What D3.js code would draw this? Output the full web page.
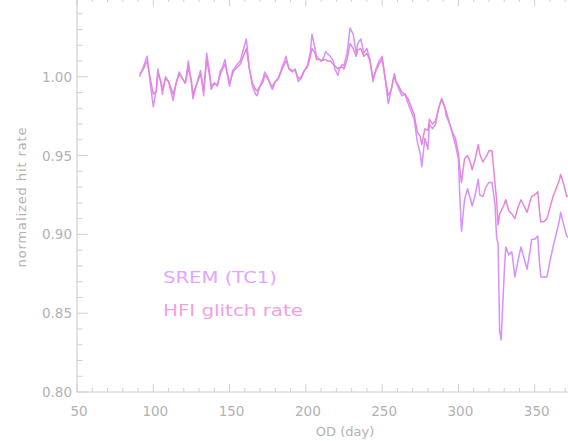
<!DOCTYPE html>
<html>
<head>
<meta charset="utf-8">
<script src="https://cdn.jsdelivr.net/npm/d3@7"></script>
<style>
  html, body { margin: 0; padding: 0; background: #fff; overflow: hidden; }
  text { font-family: "DejaVu Sans", sans-serif; }
</style>
</head>
<body>
<div id="chart"></div>
<script>
  // OD (day)
  var days = [91, 93, 96, 98, 100, 102, 103, 105, 106, 108, 110, 112, 113, 115, 117, 119, 121, 123, 125, 126,
    128, 131, 133, 135, 137, 138, 140, 142, 144, 145, 147, 149, 150, 152, 153, 155, 157, 159, 161, 163,
    165, 167, 168, 170, 172, 173, 175, 177, 178, 180, 182, 184, 186, 187, 189, 191, 193, 195, 197, 199,
    201, 203, 204, 206, 207, 209, 210, 212, 213, 214, 216, 218, 219, 221, 222, 224, 225, 227, 229, 231,
    233, 234, 236, 238, 240, 242, 244, 246, 248, 250, 252, 254, 256, 258, 259, 261, 263, 265, 267, 269,
    271, 273, 275, 276, 278, 280, 281, 283, 285, 287, 289, 291, 292, 294, 296, 298, 300, 301, 302, 304,
    306, 308, 309, 311, 313, 314, 316, 318, 320, 322, 324, 325, 326, 327, 328, 330, 331, 333, 335, 337,
    339, 341, 343, 345, 347, 348, 350, 352, 353, 354, 356, 358, 360, 362, 364, 366, 367, 369, 371, 373];

  var srem = [1.000, 1.005, 1.013, 0.996, 0.981, 0.992, 1.005, 0.996, 0.989, 1.000, 0.997, 0.989, 0.985, 0.996, 1.003, 0.999, 0.996, 1.010, 0.996, 0.986,
    0.994, 1.004, 0.988, 1.015, 1.002, 0.992, 0.996, 0.994, 1.004, 1.005, 1.011, 0.999, 0.994, 1.004, 1.005, 1.008, 1.010, 1.017, 1.024, 1.005,
    0.994, 0.989, 0.988, 0.994, 0.999, 1.003, 1.000, 0.994, 0.992, 0.997, 0.999, 1.005, 1.010, 1.013, 1.005, 1.003, 1.005, 0.997, 0.999, 1.004,
    1.007, 1.016, 1.027, 1.018, 1.013, 1.011, 1.010, 1.013, 1.016, 1.015, 1.013, 1.010, 1.005, 1.001, 1.005, 1.008, 1.007, 1.015, 1.031, 1.027,
    1.015, 1.021, 1.024, 1.015, 1.018, 1.011, 0.997, 1.005, 1.010, 1.013, 0.999, 0.983, 0.992, 1.002, 0.997, 0.992, 0.988, 0.989, 0.983, 0.978,
    0.973, 0.959, 0.951, 0.943, 0.961, 0.954, 0.970, 0.967, 0.970, 0.980, 0.986, 0.981, 0.975, 0.971, 0.964, 0.957, 0.948, 0.922, 0.902, 0.922,
    0.929, 0.922, 0.918, 0.925, 0.935, 0.925, 0.924, 0.930, 0.933, 0.933, 0.919, 0.898, 0.894, 0.839, 0.833, 0.875, 0.892, 0.887, 0.889, 0.873,
    0.883, 0.892, 0.885, 0.878, 0.890, 0.897, 0.897, 0.899, 0.884, 0.873, 0.873, 0.873, 0.883, 0.892, 0.900, 0.908, 0.914, 0.906, 0.899, 0.897];

  var hfi = [1.002, 1.004, 1.010, 0.999, 0.989, 0.991, 1.002, 0.997, 0.992, 0.999, 0.997, 0.992, 0.989, 0.996, 1.002, 0.999, 0.996, 1.006, 0.997, 0.989,
    0.994, 1.002, 0.991, 1.011, 1.000, 0.994, 0.996, 0.995, 1.002, 1.004, 1.008, 1.000, 0.996, 1.002, 1.004, 1.006, 1.008, 1.013, 1.018, 1.005,
    0.996, 0.992, 0.991, 0.994, 0.997, 1.001, 0.999, 0.995, 0.994, 0.997, 0.999, 1.004, 1.008, 1.010, 1.005, 1.004, 1.004, 0.999, 1.000, 1.004,
    1.006, 1.013, 1.018, 1.015, 1.011, 1.011, 1.010, 1.011, 1.011, 1.010, 1.010, 1.008, 1.007, 1.005, 1.006, 1.006, 1.005, 1.011, 1.021, 1.018,
    1.013, 1.017, 1.018, 1.013, 1.015, 1.010, 0.999, 1.004, 1.008, 1.011, 0.999, 0.988, 0.992, 1.001, 0.997, 0.994, 0.990, 0.989, 0.986, 0.981,
    0.976, 0.965, 0.962, 0.957, 0.967, 0.966, 0.973, 0.970, 0.972, 0.980, 0.986, 0.981, 0.978, 0.971, 0.965, 0.961, 0.951, 0.941, 0.933, 0.948,
    0.950, 0.945, 0.941, 0.948, 0.957, 0.951, 0.946, 0.949, 0.953, 0.953, 0.932, 0.922, 0.906, 0.913, 0.915, 0.919, 0.922, 0.915, 0.913, 0.910,
    0.917, 0.922, 0.918, 0.914, 0.921, 0.924, 0.925, 0.927, 0.916, 0.908, 0.908, 0.910, 0.917, 0.924, 0.929, 0.934, 0.938, 0.932, 0.924, 0.925];

  var xTicks = [50, 100, 150, 200, 250, 300, 350];
  var yTicks = [0.80, 0.85, 0.90, 0.95, 1.00];
  var legendNames = ["SREM (TC1)", "HFI glitch rate"];

  var width = 568, height = 441;
  var plotLeft = 77, plotBottom = 392, plotTop = -2, plotRight = 611;
  var axisColor = "#d0d0d0", labelColor = "#b2b2b2";
  var sremColor = "#d690ff", hfiColor = "#e985d8";

  var svg = d3.select("#chart")
    .append("svg")
    .attr("width", width)
    .attr("height", height);

  var x = d3.scaleLinear().domain([50, 400]).range([plotLeft, plotRight]);
  var y = d3.scaleLinear().domain([0.80, 1.05]).range([plotBottom, plotTop]);

  // frame
  svg.append("path")
    .attr("d", "M" + plotRight + "," + plotTop + "H" + plotLeft + "V" + plotBottom + "H" + plotRight)
    .attr("fill", "none")
    .attr("stroke", axisColor)
    .attr("stroke-width", 1.2);

  // x ticks, bottom and top, pointing inward
  var xMinor = d3.range(50, 401, 10);
  svg.selectAll(".xtick")
    .data(xMinor)
  .enter().append("path")
    .attr("class", "xtick")
    .attr("d", function(d) {
      var len = (d % 50 === 0) ? 8 : 4;
      var px = x(d);
      return "M" + px + "," + plotBottom + "v" + (-len) + "M" + px + "," + plotTop + "v" + len;
    })
    .attr("stroke", axisColor);

  var yMinor = d3.range(80, 106, 1).map(function(d) { return d / 100; });
  svg.selectAll(".ytick")
    .data(yMinor)
  .enter().append("path")
    .attr("class", "ytick")
    .attr("d", function(d, i) {
      var len = (i % 5 === 0) ? 11 : 5.5;
      return "M" + plotLeft + "," + y(d) + "h" + len;
    })
    .attr("stroke", axisColor);

  svg.selectAll(".xlabel")
    .data(xTicks)
  .enter().append("text")
    .attr("x", function(d) { return x(d) + 2; })
    .attr("y", 416)
    .attr("text-anchor", "middle")
    .attr("font-size", 13.5)
    .attr("fill", labelColor)
    .text(function(d) { return d; });

  svg.selectAll(".ylabel")
    .data(yTicks)
  .enter().append("text")
    .attr("x", 72)
    .attr("y", function(d) { return y(d) + 5; })
    .attr("text-anchor", "end")
    .attr("font-size", 13.5)
    .attr("fill", labelColor)
    .text(function(d) { return d.toFixed(2); });

  svg.append("text")
    .attr("x", 345)
    .attr("y", 436)
    .attr("text-anchor", "middle")
    .attr("font-size", 13)
    .attr("fill", labelColor)
    .text("OD (day)");

  svg.append("text")
    .attr("transform", "translate(26,197) rotate(-90)")
    .attr("text-anchor", "middle")
    .attr("font-size", 13)
    .attr("letter-spacing", 0.9)
    .attr("fill", labelColor)
    .text("normalized hit rate");

  // series
  var line = d3.line()
    .x(function(d, i) { return x(days[i]); })
    .y(function(d) { return y(d); });

  svg.append("path")
    .datum(srem)
    .attr("d", line)
    .attr("fill", "none")
    .attr("stroke", sremColor)
    .attr("stroke-width", 1.5)
    .attr("stroke-linejoin", "round");

  svg.append("path")
    .datum(hfi)
    .attr("d", line)
    .attr("fill", "none")
    .attr("stroke", hfiColor)
    .attr("stroke-width", 1.5)
    .attr("stroke-linejoin", "round");

  // legend
  var legendColors = ["#e0a6ff", "#f2a0e2"];
  var legendWidths = [114, 140];
  svg.selectAll(".legend")
    .data(legendNames)
  .enter().append("text")
    .attr("x", 163)
    .attr("y", function(d, i) { return 283 + i * 33; })
    .attr("font-size", 16)
    .attr("textLength", function(d, i) { return legendWidths[i]; })
    .attr("lengthAdjust", "spacingAndGlyphs")
    .attr("fill", function(d, i) { return legendColors[i]; })
    .text(function(d) { return d; });
</script>
</body>
</html>
